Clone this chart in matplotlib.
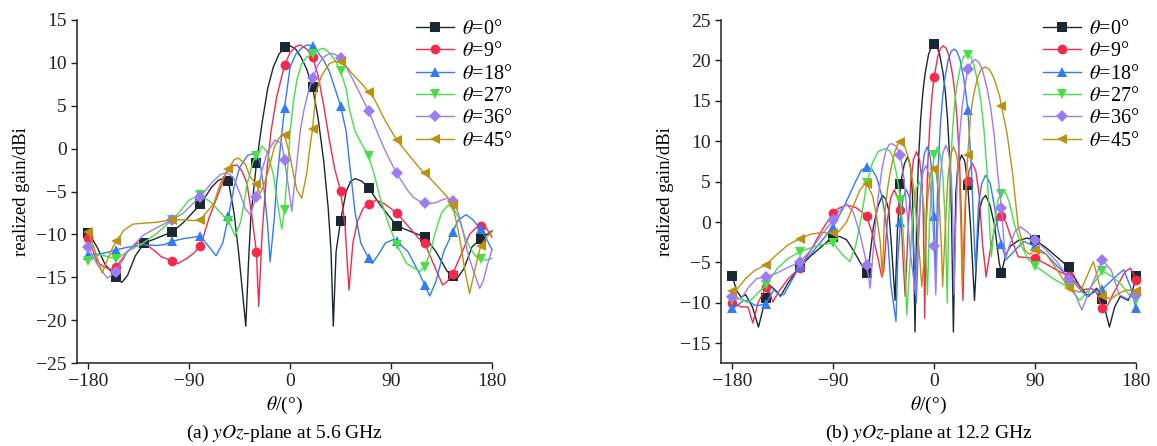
import numpy as np
import matplotlib
matplotlib.use("Agg")
import matplotlib.pyplot as plt

plt.rcParams["font.family"] = ["Liberation Serif", "DejaVu Serif"]
plt.rcParams["mathtext.fontset"] = "stix"

# ---------------- (a) 5.6 GHz ----------------
a_black_ang = [-180,-172,-165,-155,-150,-145,-138,-130,-120,-105,-95,-80,-70,-64,-60,-55,-50,-46,-43,-39.5,-37,-35,-30,-25,-20,-15,-10,-5,0,5,10,15,20,25,30,34,36.5,38.5,41,45,50,54,58,64,70,80,95,110,120,130,140,145,148,155,162,170,180]
a_black_val = [-9.8,-11.5,-13.5,-15,-15.6,-14.8,-12.5,-11,-10.5,-9.7,-8.6,-6.5,-4.5,-3.7,-3.5,-3.8,-7.5,-12,-16,-20.7,-13,-8,-1.7,3,7,9.5,11,11.8,12,11.6,10.6,9.2,7.2,3.5,-1.5,-7,-12,-20.7,-12,-8.4,-5,-3.8,-3.5,-3.8,-4.6,-6.5,-9,-9.8,-10.3,-12,-14.3,-14.8,-15.3,-14,-11.5,-10.5,-9.6]

a_red_ang = [-180,-172,-166,-160,-155,-145,-136,-128,-120,-115,-105,-100,-92,-86,-80,-72,-65,-56,-51,-47.5,-43,-38.5,-34,-30,-28,-25,-21,-17,-12,-5,0,5,9,15,20,25,30,35,40,45,49,52.5,56,60,65,70,77,85,95,105,115,120,128,136,140,145,152,160,165,170,175,180]
a_red_val = [-10.4,-13.2,-13.8,-14.1,-13.8,-12,-11,-11.2,-12,-12.6,-13.1,-13.4,-12.8,-12.2,-11.4,-8,-5.6,-2.5,-2.0,-1.9,-2.6,-4,-7.9,-12.1,-18.4,-10,-3,2,6,9.7,11.2,11.9,12.1,11.6,10.7,8.5,5,1,-2.5,-4.9,-9,-16.5,-11,-8.5,-7,-6.4,-6.0,-6.5,-7.5,-9,-10.5,-11,-13.5,-15.9,-15.5,-14.6,-12.5,-10,-9.3,-9.0,-9.3,-10.3]

a_blue_ang = [-180,-170,-160,-155,-145,-131,-120,-112,-105,-95,-85,-80,-72,-66,-60,-55,-50,-45,-38,-31,-27,-23,-20,-17.8,-14,-12,-8,-5,0,5,10,15,20,25,30,35,40,45,50,53,58,63,70,73,78,85,92,95,105,115,120,124.5,130,137,145,150,157,163,170,175,180]
a_blue_val = [-12.4,-12.3,-12,-11.8,-11.5,-11.2,-11.3,-11.2,-10.8,-10.5,-10.3,-10.2,-11.5,-12.5,-11,-7.9,-4.5,-2.2,-0.8,-0.5,-1.5,-5,-9,-13.2,-8,-4,1,4.7,9.5,11,11.7,12.1,12.0,11.2,10.3,9,7,5.0,2,-1.7,-7.5,-11,-12.8,-13.4,-12.5,-11,-10.6,-10.8,-12,-14.5,-15.9,-17.2,-15.5,-12,-9.7,-8.3,-7.7,-8.3,-9.4,-10.5,-11.8]

a_green_ang = [-180,-172,-165,-155,-145,-131,-120,-105,-98,-90,-80,-70,-62,-55,-49,-44,-38,-33,-30,-25,-20,-15,-11,-7.4,-5,-2,0,3,6,10,15,20,25,29.6,35,40,45,50,53,58,62,70,75,80,87.5,95,104,115.7,120,125,130,135,141,145,150,155,160,165,170,175,180]
a_green_val = [-13.1,-12.4,-12.5,-12.9,-12,-11.0,-10,-8.3,-7.3,-6,-5.4,-6.3,-7.5,-8.4,-10.2,-8.5,-4,-1.5,-0.85,0.3,-0.5,-3,-6.5,-9.4,-7.1,-2,2,5.5,8,9.8,10.7,11.0,11.5,11.7,11.2,10.3,9.0,7,4.5,2,1,-0.9,-3,-5.6,-8.7,-11.2,-13.4,-14.3,-13.8,-12,-9.5,-7.5,-6.6,-6.8,-8,-10,-11.5,-12.5,-12.9,-13,-12.8]

a_purple_ang = [-180,-172,-163,-155,-145,-131,-120,-105,-95,-85,-80,-70,-62,-56,-50,-44,-40,-35.6,-30,-25,-20,-13.3,-7.4,-5,-1.5,1.5,4,6,9,12,16,20,25,30,35.6,40,45,50,55,60,65,70,75,80,85,90,95,100,105,110,115,120,125,130,135,140,145,150,154,158,163,169,172,176,180]
a_purple_val = [-11.5,-13.5,-15.1,-14.4,-12,-10.1,-9.3,-8.3,-7.5,-6.2,-5.6,-4,-3,-2.8,-3.5,-5.5,-7,-7.7,-5.6,-2.5,-0.3,1.0,0.6,-1.3,-4.4,-7.3,-4,-1.7,2,4.3,6.5,8.2,9.8,10.7,11.1,11,10.6,9.5,8.3,7,5.7,4.4,2.8,1.2,-0.3,-1.6,-2.9,-3.9,-4.9,-5.7,-6.1,-6.3,-6.4,-6.3,-6.0,-5.8,-6.1,-7.5,-9.5,-12,-14.1,-16.3,-15.5,-13.5,-11.8]

a_gold_ang = [-180,-175,-170,-167.6,-163,-158,-155,-148,-140,-131,-120,-105,-95,-85,-80,-75,-68,-62,-55,-50,-46,-40,-35.6,-30,-27,-24,-19.3,-14,-10,-7.4,-5,0,3,6,10.4,14.8,17,20,23,28,35,40,45,50,55,60,65,70,75,80,85,90,95,100,105,110,115,120,125,130,135,140,145,151,155.7,160,166,170,178,180]
a_gold_val = [-9.7,-11.5,-13.5,-14.5,-13,-11.5,-10.8,-9.5,-8.8,-8.7,-8.6,-8.3,-8.3,-8.4,-8.3,-7.5,-6.4,-4,-2.4,-1.3,-1.1,-1.8,-3.3,-4.1,-5.3,-4.5,-2.5,0.2,1.2,1.6,1.6,-0.9,-3,-4.8,-5.8,-2.9,-0.5,2.3,6.5,8.5,9.9,10.2,10.1,9.6,8.8,8.1,7.4,6.6,5.8,4.5,3.2,2.1,1.0,0.2,-0.6,-1.4,-2.2,-2.9,-3.5,-4.2,-4.9,-5.6,-6.6,-10.3,-14.1,-16.9,-13.4,-11.3,-9.9,-9.7]

# ---------------- (b) 12.2 GHz ----------------
b_black_ang = [-180,-176,-172,-168,-162,-156.6,-153,-150,-146,-141,-137,-130,-120,-110,-100,-90,-84,-78,-72,-66,-60,-58,-54,-50,-46,-43,-40.5,-38,-34.8,-32.7,-30,-26.5,-23.5,-21.1,-19.3,-17,-15.5,-14,-12,-10,-8,-5,-2.5,0,2.5,5,8,10,12,14,15.5,17.2,19.3,21.1,24.5,27.4,30,32.7,36,38.5,40.5,43,46,50,54,58,60,64,68,75,82.6,90,100,110,120,130,137.6,145,150,156.3,161,166,173,177,180]
b_black_val = [-6.7,-8.5,-9.3,-9.0,-10.5,-13.0,-11,-9.4,-7.9,-8.5,-9.2,-7.5,-5.6,-4.2,-3,-1.8,-1.8,-2.2,-3.5,-5,-6.3,-5,-0.5,2,3.3,2.8,1.5,-3,-9.7,-1,4.7,7.2,8.1,6.9,3.4,-13.6,1,7.5,12.7,16.1,18.4,20.7,21.7,22.0,21.7,20.7,18.4,16.1,12.7,7.5,1,-13.6,3.4,6.9,8.3,7.5,4.6,-1,-9.7,-3,1.5,2.8,3.3,2,-0.5,-5,-6.3,-4,-3,-2.3,-2.0,-2.2,-3.2,-4.4,-5.6,-8,-9.2,-8.2,-9.5,-13,-10.5,-9.2,-9.7,-8.5,-6.7]

b_red_ang = [-180,-172,-166,-161.6,-157,-150,-147,-143.8,-138,-130,-120,-110,-100,-90,-85,-78,-70,-65,-60,-55,-50,-46.6,-44.9,-41.7,-38.7,-35.5,-32.4,-30,-27.1,-25.8,-23.3,-20.8,-18.4,-15.7,-13,-10.7,-9.5,-8.4,-7,-5.6,-3.6,-1.7,0,3.3,5.8,8.3,10.8,13.4,16.5,18.6,20.6,22.7,24.3,25.7,28.3,30,31,34,37.2,40.1,43.2,46.4,50,54,57,60,64,70,75,82,90,100,110,120,127,133,140,145,150,155,160,165,170,175,178,180]
b_red_val = [-10,-10.5,-10.5,-12.5,-10,-8.1,-8.5,-9.9,-8.5,-7,-5.7,-3.5,-1,1.1,1.7,2.1,1.8,1.3,0.7,-1.5,-4.5,-6.8,-6,0.2,3.0,4.0,3.0,1.5,-6,-9.2,-1.3,4.9,7.7,8.7,7.7,4.9,0,-11.9,0.8,7.3,12.5,15.9,17.9,20.5,21.5,21.8,21.5,20.5,18.2,15.9,12.5,7.3,0.8,-9.7,3.5,5.1,6.3,7.3,6.3,3.5,-2.7,-6.8,-3.5,-0.8,0.3,0.7,0,-2.5,-4.3,-4.4,-4.5,-5.2,-6,-6.7,-7.5,-8.4,-8.2,-8.8,-10.7,-10.2,-8.8,-7.5,-6.2,-5.7,-6.5,-7.2]

b_blue_ang = [-180,-175,-170,-165,-160,-155,-150,-143,-138,-134,-128,-120,-110,-100,-90,-80,-70,-65,-60,-55.3,-51.2,-46.6,-43.8,-41.1,-38.6,-34,-32.5,-30,-27.6,-24.8,-21.9,-19.5,-17.2,-15.9,-13.5,-11.2,-8.9,-6.3,-3.7,-1.4,0,1.5,2.5,3.7,5.6,7.6,9.6,12.6,15.2,17.8,20.4,23.1,26.4,28.7,30,30.9,33.2,35,37,39.5,42.5,46,50,53.7,57,60,64,72,80,90,100,110,120,128,136,145,150,160,169,175,180]
b_blue_val = [-10.7,-10.3,-9.7,-9.8,-10.3,-10.3,-10.1,-8.4,-9,-9.0,-7.5,-5.5,-4,-2.3,-0.6,2,5,6.4,6.8,6.5,5.5,3.2,0.9,-2.5,-7.7,-12.3,-5,0.0,3,4,3,0.2,-6,-10,-0.7,5.5,8.3,9.3,8.3,5.5,0.7,-7,0.5,6.9,12.1,15.5,17.8,20.1,21.1,21.4,21.1,20.1,17.8,15.5,13.9,12.1,6.9,0.4,-6,2,4.8,5.8,4.8,2,-1,-2.7,-4.7,-3.5,-2.4,-3.0,-4,-5.5,-6.8,-8,-9.2,-8.5,-8.3,-7,-5.9,-8,-10.7]

b_green_ang = [-180,-172,-166,-160,-150,-140,-130,-120,-110,-100,-90,-82,-75,-70,-65,-60,-55,-50,-43.7,-39.4,-36.5,-33,-30,-28,-26,-24.4,-21.5,-18.9,-16.2,-13.5,-10.9,-8.5,-6,-4.2,-1.9,0,3,5.6,7.9,10.2,11.7,13,14.5,16.5,18.5,20.7,23.9,26.6,30,32.4,35.4,39.1,41.8,44.4,47.2,49.4,51,54,57,60,63,67,72,78,84,90,106,120,130,140,150,156,166,175,180]
b_green_val = [-9.6,-9.5,-10,-9.2,-7.8,-5.8,-4.5,-3.7,-3.2,-2.8,-2.6,-4,-4.9,-3,0.5,4.8,7.3,8.7,9.1,8.8,7.9,5.6,2.7,-0.5,-5,-11.5,-5,1.2,4,5,4,1.2,-9,-0.7,5.5,8.3,9.3,8.3,5.5,-0.7,-10,-0.2,6.3,11.5,14.9,17.2,19.5,20.5,20.7,20.5,19.5,17.2,14.9,11.5,6.3,-0.2,-4.3,0,2.8,3.5,3.8,2.5,-0.5,-3,-4.6,-5.4,-7,-8.1,-9.7,-8,-6.1,-6.5,-7.6,-9.2,-9.6]

b_purple_ang = [-180,-172,-165,-158,-150,-140,-130,-120,-110,-100,-90,-85,-78,-72,-66,-62,-60,-57,-54,-50,-46,-43,-40,-37.7,-34,-30,-27,-24,-21,-16.5,-14.8,-12.4,-10,-7.4,-4.8,-2.5,0,1.5,3.2,5.5,7.8,10.4,13.1,15.4,16.8,17.8,19.2,20.7,22.8,25,27.2,30,33.5,36.6,39.8,43.1,47.3,50.4,53.5,57,60,63.5,67,72,76.7,83,90,100,110,120,131.7,140,150,158,165,172,180]
b_purple_val = [-9.3,-9.5,-8,-7,-6.8,-6.3,-5.6,-5.0,-3.5,-1.5,0.2,1.3,2.2,1.2,-1.5,-4,-5.3,-8.2,-3,3,7,8.8,9.6,9.7,9.4,8.3,5.5,1,-4,-9,-3,3.2,6,7,6,3.2,-3.0,-9,-0.5,5.7,8.5,9.5,8.5,5.7,-0.5,-9,-0.9,5.6,10.8,14.2,16.5,18.9,19.8,20.1,19.8,18.8,16.5,14.2,10.8,5.6,1.7,-4.6,-3,-1.2,-0.6,-1.2,-2.2,-3.5,-5,-7,-10.9,-8,-4.7,-6,-9,-9.5,-9.0]

b_gold_ang = [-180,-175,-168,-160,-150,-140,-130,-120,-110,-100,-90,-85,-78,-72,-66,-61,-60,-55,-51,-48,-46,-44.3,-41.6,-39,-35.2,-32.5,-30,-26,-22,-18,-15,-12.5,-11,-8,-5.6,-3.3,-0.7,0,1.9,4.2,6.5,7.6,10,12.3,14.7,17.3,20.1,22.5,24,25,26.5,28.1,30,32.6,35,38.8,42,45.5,49.2,53.1,58.4,60,65,70,75,81,85,90,100,110,120,130,142,150,158,165,172,180]
b_gold_val = [-8.6,-8.2,-7,-6,-5.3,-4,-2.8,-2.1,-1.5,-1.3,-1.4,-1.2,0,2,4,4.8,4.7,3.3,0.5,-2.5,-6.8,0.6,4,6.3,8.6,9.6,9.9,9.3,7.5,4,-1,-5,-8,-3,3.2,6,7,6.5,6,3.2,-3,-8,-0.7,5.5,8.3,9.3,8.3,5.5,-1,-8,-1.9,3.5,8.3,13.3,15.6,17.9,18.9,19.2,18.9,17.9,15.6,14.4,11,6,-0.6,-3.5,-4,-3.5,-4,-6,-8.2,-8.7,-4.9,-9.2,-9.5,-8.8,-8.4,-8.6]

labels = [r"$\theta$=0°", r"$\theta$=9°", r"$\theta$=18°", r"$\theta$=27°", r"$\theta$=36°", r"$\theta$=45°"]
colors = ["#1b2831", "#f5294c", "#2f7cf6", "#46df46", "#9c7cf6", "#c08f0f"]
markers = ["s", "o", "^", "v", "D", "<"]
msizes = [6.5, 7, 7, 7, 6, 7.5]

panels = [
    dict(series=[(a_black_ang, a_black_val), (a_red_ang, a_red_val), (a_blue_ang, a_blue_val),
                 (a_green_ang, a_green_val), (a_purple_ang, a_purple_val), (a_gold_ang, a_gold_val)],
         mark_step=25, ylim=(-25, 15), yticks=np.arange(-25, 16, 5),
         caption=r"(a) $yOz$-plane at 5.6 GHz", box=(77, 492), legx=416),
    dict(series=[(b_black_ang, b_black_val), (b_red_ang, b_red_val), (b_blue_ang, b_blue_val),
                 (b_green_ang, b_green_val), (b_purple_ang, b_purple_val), (b_gold_ang, b_gold_val)],
         mark_step=30, ylim=(-17.45, 25), yticks=np.arange(-15, 26, 5),
         caption=r"(b) $yOz$-plane at 12.2 GHz", box=(721, 1136), legx=1043),
]

W, H = 1157, 446
fig = plt.figure(figsize=(W / 100, H / 100), dpi=100)
top_px, bot_px = 20, 363

for p in panels:
    x0, x1 = p["box"]
    ax = fig.add_axes([x0 / W, 1 - bot_px / H, (x1 - x0) / W, (bot_px - top_px) / H])
    for (ang, val), lab, c, m, ms in zip(p["series"], labels, colors, markers, msizes):
        ang = np.asarray(ang, float)
        step = p["mark_step"]
        idx = [i for i, a in enumerate(ang) if abs((a + 180) / step - round((a + 180) / step)) < 1e-9]
        ax.plot(ang, val, color=c, lw=1.0, marker=m, ms=ms, markevery=idx,
                markeredgewidth=0, label=lab, clip_on=False, zorder=3)
    ax.set_xlim(-190, 180)
    ax.set_ylim(*p["ylim"])
    ax.set_xticks([-180, -90, 0, 90, 180])
    ax.set_xticklabels(["\u2212180", "\u221290", "0", "90", "180"])
    ax.set_yticks(p["yticks"])
    ax.set_yticklabels([("\u2212%d" % -v) if v < 0 else "%d" % v for v in p["yticks"]])
    for s in ("top", "right"):
        ax.spines[s].set_visible(False)
    for s in ("left", "bottom"):
        ax.spines[s].set_linewidth(1.1)
        ax.spines[s].set_color("#222222")
    ax.tick_params(direction="out", length=4.5, width=1.0, labelsize=14, pad=3, colors="#222222")
    ax.set_ylabel("realized gain/dBi", fontsize=13.5, labelpad=4)
    ax.set_xlabel(r"$\theta$/(°)", fontsize=14, labelpad=3)
    ax.legend(loc="upper left", bbox_to_anchor=((p["legx"] - x0) / (x1 - x0), 1.0),
              frameon=False, fontsize=14.5, handlelength=1.9, handletextpad=0.4,
              labelspacing=0.16, borderpad=0, borderaxespad=0)
    fig.text((x0 + x1) / 2 / W, 1 - 433 / H, p["caption"], ha="center", va="center", fontsize=14)

fig.savefig("out.png", dpi=100)
